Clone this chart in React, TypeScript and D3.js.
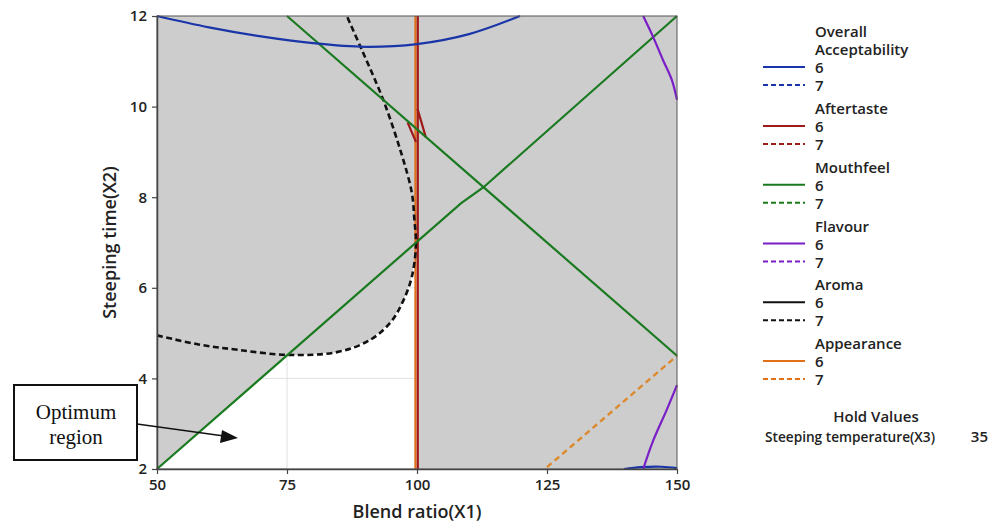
import React, { useEffect, useRef } from 'react';
import * as d3 from 'd3';

type Pt = [number, number];

// contour lines: [blend ratio X1, steeping time X2]
const acceptability6Top: Pt[] = [[50, 12], [60, 11.75], [70, 11.55], [80, 11.4], [90, 11.32], [100, 11.38], [110, 11.6], [119.8, 12]];
const acceptability6Bottom: Pt[] = [[139.8, 2], [143, 2.04], [147, 2.05], [150, 2.02]];
const aftertaste6Line: Pt[] = [[100.15, 2], [100.15, 12]];
const aftertaste6NotchA: Pt[] = [[98.2, 9.65], [99.8, 9.22]];
const aftertaste6NotchB: Pt[] = [[100.1, 9.95], [101.7, 9.32]];
const mouthfeel6Rising: Pt[] = [[50, 2], [108.5, 7.87], [112.8, 8.22], [150, 12]];
const mouthfeel6Falling: Pt[] = [[75, 12], [150, 4.5]];
const flavour6Top: Pt[] = [[143.5, 12], [145.4, 11.54], [147.3, 11.03], [149, 10.59], [150, 10.15]];
const flavour6Bottom: Pt[] = [[143.5, 2], [145.4, 2.62], [148, 3.3], [150, 3.85]];
const aroma7: Pt[] = [
  [50, 4.95], [58, 4.75], [65.6, 4.63], [75, 4.52], [84.6, 4.58], [91, 4.85], [95, 5.25],
  [97.3, 5.7], [99, 6.24], [99.8, 6.94], [99.5, 7.5], [99, 8.1], [96.9, 9.0], [93.5, 10.15],
  [89.4, 11.25], [86.5, 12],
];
const appearance6: Pt[] = [[99.7, 2], [99.7, 12]];
const appearance7: Pt[] = [[125, 2.04], [150, 4.5]];

const xTicks = [50, 75, 100, 125, 150];
const yTicks = [2, 4, 6, 8, 10, 12];

const legendTitles = [['Overall', 'Acceptability'], ['Aftertaste'], ['Mouthfeel'], ['Flavour'], ['Aroma'], ['Appearance']];
const legendColors = ['#1a35a8', '#9e1a1a', '#1a7a1f', '#7a1ec8', '#111111', '#e0701a'];
const legendLevels = ['6', '7'];
const holdFactor = 'Steeping temperature(X3)';
const holdValue = '35';

export default function App() {
  const ref = useRef<SVGSVGElement>(null);

  useEffect(() => {
    const svg = d3.select(ref.current);
    svg.selectAll('*').remove();

    const font = "'Open Sans', 'Noto Sans', sans-serif";
    const x = d3.scaleLinear().domain([50, 150]).range([157, 677]);
    const y = d3.scaleLinear().domain([2, 12]).range([469, 16]);
    const line = d3.line<Pt>().x(d => x(d[0])).y(d => y(d[1]));
    const smooth = d3.line<Pt>().x(d => x(d[0])).y(d => y(d[1])).curve(d3.curveCatmullRom);

    // the optimum (white) region: under the rising mouthfeel line and the aroma contour, left of X1 = 100
    const optimum: Pt[] = [[50, 2], [75, 4.5], ...aroma7.slice(4, 10), [100, 7], [100, 2]];

    const g = svg.append('g');
    g.append('rect')
      .attr('x', x(50)).attr('y', y(12))
      .attr('width', x(150) - x(50)).attr('height', y(2) - y(12))
      .attr('fill', '#cdcdcd');

    svg.append('defs').append('clipPath').attr('id', 'opt')
      .append('path').attr('d', line(optimum) + 'Z');
    g.append('path').attr('d', line(optimum) + 'Z').attr('fill', '#ffffff');

    const grid = g.append('g').attr('clip-path', 'url(#opt)');
    xTicks.forEach(t => grid.append('line')
      .attr('x1', x(t)).attr('x2', x(t)).attr('y1', y(2)).attr('y2', y(12))
      .attr('stroke', '#e0e0e0').attr('stroke-width', 1));
    yTicks.forEach(t => grid.append('line')
      .attr('x1', x(50)).attr('x2', x(150)).attr('y1', y(t)).attr('y2', y(t))
      .attr('stroke', '#e0e0e0').attr('stroke-width', 1));

    const draw = (pts: Pt[], color: string, dash: string | null = null, curved = false, w = 2.2) => {
      g.append('path')
        .attr('d', (curved ? smooth : line)(pts))
        .attr('fill', 'none')
        .attr('stroke', color)
        .attr('stroke-width', w)
        .attr('stroke-dasharray', dash);
    };

    draw(appearance6, legendColors[5], null, false, 2.2);
    draw(aftertaste6Line, legendColors[1], null, false, 2.2);
    draw(aftertaste6NotchA, legendColors[1]);
    draw(aftertaste6NotchB, legendColors[1]);
    draw(appearance7, '#dc8a2c', '6,4', false, 2.4);
    draw(aroma7, legendColors[4], '6,3.5', true, 2.6);
    draw(mouthfeel6Rising, legendColors[2]);
    draw(mouthfeel6Falling, legendColors[2]);
    draw(acceptability6Top, legendColors[0], null, true);
    draw(acceptability6Bottom, legendColors[0], null, true);
    draw(flavour6Top, legendColors[3], null, true);
    draw(flavour6Bottom, legendColors[3], null, true);

    // frame
    g.append('rect')
      .attr('x', x(50)).attr('y', y(12))
      .attr('width', x(150) - x(50)).attr('height', y(2) - y(12))
      .attr('fill', 'none').attr('stroke', '#555').attr('stroke-width', 1);

    const xAxis = svg.append('g').attr('transform', `translate(0,${y(2)})`)
      .call(d3.axisBottom(x).tickValues(xTicks).tickSize(5).tickPadding(5).tickSizeOuter(0));
    const yAxis = svg.append('g').attr('transform', `translate(${x(50)},0)`)
      .call(d3.axisLeft(y).tickValues(yTicks).tickSize(5).tickPadding(5).tickSizeOuter(0));
    [xAxis, yAxis].forEach(a => {
      a.select('.domain').attr('stroke', '#444').attr('stroke-width', 1.5);
      a.selectAll('.tick line').attr('stroke', '#444').attr('stroke-width', 1.2);
      a.selectAll('.tick text')
        .attr('font-family', font).attr('font-size', 15).attr('font-weight', 600).attr('fill', '#222');
    });

    svg.append('text')
      .attr('x', (x(50) + x(150)) / 2).attr('y', 518)
      .attr('text-anchor', 'middle')
      .attr('font-family', font).attr('font-size', 18).attr('font-weight', 600).attr('fill', '#222')
      .text('Blend ratio(X1)');
    svg.append('text')
      .attr('transform', `translate(116,${(y(2) + y(12)) / 2}) rotate(-90)`)
      .attr('text-anchor', 'middle')
      .attr('font-family', font).attr('font-size', 18).attr('font-weight', 600).attr('fill', '#222')
      .text('Steeping time(X2)');

    // legend
    const lg = svg.append('g').attr('font-family', font).attr('font-size', 15).attr('font-weight', 600).attr('fill', '#222');
    let base = 37;
    legendTitles.forEach((title, i) => {
      title.forEach((t, j) => lg.append('text').attr('x', 815).attr('y', base + j * 18).text(t));
      const first = base + title.length * 18;
      legendLevels.forEach((lv, k) => {
        const by = first + k * 18;
        lg.append('line')
          .attr('x1', 763).attr('x2', 805).attr('y1', by - 6).attr('y2', by - 6)
          .attr('stroke', legendColors[i]).attr('stroke-width', 2.2)
          .attr('stroke-dasharray', k === 1 ? '5,3' : null);
        lg.append('text').attr('x', 815).attr('y', by).text(lv);
      });
      base = i === 0 ? 114 : base + 58.75;
    });
    lg.append('text').attr('x', 876).attr('y', 422).attr('text-anchor', 'middle').text('Hold Values');
    lg.append('text').attr('x', 765).attr('y', 442)
      .attr('textLength', 170).attr('lengthAdjust', 'spacingAndGlyphs').text(holdFactor);
    lg.append('text').attr('x', 988).attr('y', 442).attr('text-anchor', 'end').text(holdValue);

    // annotation
    svg.append('rect')
      .attr('x', 14).attr('y', 385).attr('width', 123).attr('height', 75)
      .attr('fill', '#fff').attr('stroke', '#111').attr('stroke-width', 2);
    const serif = "'Liberation Serif', 'Times New Roman', serif";
    svg.append('text').attr('x', 76).attr('y', 419).attr('text-anchor', 'middle')
      .attr('font-family', serif).attr('font-size', 21).attr('fill', '#111').text('Optimum');
    svg.append('text').attr('x', 76).attr('y', 444).attr('text-anchor', 'middle')
      .attr('font-family', serif).attr('font-size', 21).attr('fill', '#111').text('region');
    svg.append('line')
      .attr('x1', 137).attr('y1', 424).attr('x2', 224).attr('y2', 436)
      .attr('stroke', '#111').attr('stroke-width', 1.3);
    svg.append('path')
      .attr('d', 'M238,438 L222,430 L220,443 Z')
      .attr('fill', '#111');
  }, []);

  return (
    <svg ref={ref} width={1001} height={524}
      style={{ position: 'absolute', left: 0, top: 0, background: '#fff' }} />
  );
}
